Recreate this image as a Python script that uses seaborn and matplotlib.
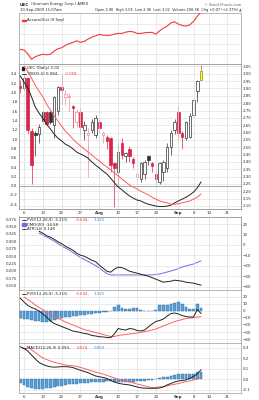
import numpy as np
import pandas as pd
import matplotlib
matplotlib.use("Agg")
import matplotlib.pyplot as plt
import seaborn as sns
from matplotlib.patches import Rectangle

# ---------------- data ----------------
opens  = [2.92,2.90,2.97,2.61,2.60,2.59,2.74,2.74,2.74,2.65,2.75,2.91,2.84,2.84,2.78,2.67,2.74,2.62,2.58,2.62,
          2.58,2.67,2.58,2.57,2.56,2.39,2.33,2.53,2.44,2.49,2.42,2.30,2.28,2.32,2.44,2.39,2.32,2.26,2.33,2.36,
          2.50,2.62,2.74,2.60,2.56,2.57,2.72,2.88,2.96]
highs  = [2.96,2.99,2.98,2.63,2.61,2.66,2.75,2.75,2.75,2.85,2.92,3.00,2.89,2.87,2.79,2.76,2.77,2.68,2.63,2.69,
          2.72,2.69,2.61,2.58,2.57,2.40,2.52,2.56,2.47,2.51,2.43,2.33,2.40,2.41,2.45,2.40,2.34,2.40,2.41,2.53,
          2.62,2.69,2.78,2.61,2.68,2.73,2.83,2.955,3.06]
lows   = [2.87,2.89,2.60,2.25,2.44,2.53,2.66,2.65,2.66,2.56,2.72,2.79,2.79,2.74,2.63,2.64,2.59,2.55,2.30,2.60,
          2.56,2.60,2.53,2.49,2.33,2.09,2.24,2.42,2.40,2.40,2.36,2.27,2.26,2.28,2.38,2.33,2.25,2.25,2.27,2.33,
          2.45,2.59,2.55,2.49,2.55,2.56,2.71,2.81,2.96]
closes = [2.90,2.97,2.62,2.38,2.585,2.64,2.68,2.66,2.675,2.84,2.91,2.89,2.86,2.85,2.77,2.74,2.64,2.65,2.60,2.67,
          2.70,2.63,2.60,2.54,2.38,2.36,2.47,2.45,2.46,2.44,2.39,2.32,2.39,2.40,2.41,2.37,2.28,2.39,2.40,2.50,
          2.60,2.67,2.60,2.57,2.67,2.71,2.82,2.95,3.02]

accum_dist = [10.7,10.0,6.3,0.7,3.3,4.7,5.7,5.3,5.7,9.0,11.3,12.3,14.7,16.3,17.7,19.3,17.7,18.7,21.0,23.0,
              24.3,25.7,25.0,24.7,25.0,26.0,26.7,26.7,28.0,28.7,28.3,26.7,26.7,27.3,27.7,27.7,26.0,29.3,32.0,34.0,
              37.3,38.3,36.0,34.7,34.0,35.3,38.7,44.0,48.3]

trix_line = [2.36,2.23,2.10,1.91,1.69,1.56,1.45,1.32,1.22,1.11,1.02,0.96,0.89,0.85,0.79,0.72,0.68,0.64,0.59,0.51,
             0.44,0.38,0.31,0.25,0.16,0.06,-0.03,-0.09,-0.16,-0.22,-0.27,-0.31,-0.33,-0.37,-0.40,-0.42,-0.44,-0.45,-0.45,-0.44,
             -0.42,-0.37,-0.33,-0.29,-0.25,-0.20,-0.14,-0.05,0.08]
trix_signal = [np.nan,2.57,2.46,2.31,2.16,2.03,1.91,1.75,1.63,1.50,1.39,1.28,1.17,1.09,1.00,0.92,0.85,0.79,0.72,0.66,
               0.59,0.53,0.46,0.40,0.34,0.27,0.21,0.14,0.08,0.01,-0.03,-0.07,-0.12,-0.16,-0.20,-0.25,-0.29,-0.33,-0.35,-0.37,
               -0.40,-0.40,-0.39,-0.37,-0.35,-0.33,-0.29,-0.25,-0.18]

atr14 = [np.nan]*5 + [0.3345,0.3277,0.3192,0.3141,0.3073,0.2988,0.2920,0.2835,0.2767,0.2699,0.2597,0.2529,0.2495,0.2427,0.2359,
         0.2308,0.2189,0.2087,0.1985,0.1951,0.2053,0.2121,0.2104,0.2053,0.1985,0.1951,0.1917,0.1883,0.1849,0.1815,0.1764,
         0.1713,0.1662,0.1611,0.1628,0.1645,0.1679,0.1662,0.1645,0.1611,0.1594,0.1577,0.1543,0.1509]
cmo20 = [np.nan]*5 + [11.5,9.6,7.7,5.8,3.8,1.4,-1.0,-2.9,-4.8,-7.2,-9.6,-12.0,-13.9,-15.9,-17.8,
         -19.7,-22.1,-25.0,-27.4,-28.8,-28.8,-28.8,-28.8,-28.8,-28.8,-28.8,-28.8,-28.8,-28.8,-28.8,-28.8,
         -28.3,-27.9,-26.9,-26.0,-25.0,-24.0,-22.6,-21.2,-20.2,-19.2,-18.3,-16.8,-15.4]

pvo_line = [17.9,12.3,7.5,4.5,2.4,-0.4,-4.6,-8.9,-14.5,-18.0,-20.1,-22.3,-24.4,-26.5,-28.6,-29.6,-30.7,-32.1,-32.8,-34.9,
            -35.6,-36.6,-37.0,-37.7,-38.0,-32.8,-25.1,-26.5,-27.2,-25.1,-25.8,-27.9,-28.6,-27.2,-23.0,-18.7,-15.2,-13.8,-11.7,-7.5,
            -4.0,-3.2,-4.6,-6.8,-8.2,-8.9,-8.9,1.7,-4.0]
pvo_signal = [np.nan,19.3,15.8,12.3,8.0,4.5,1.7,-1.8,-4.6,-7.5,-10.3,-13.1,-15.9,-18.0,-20.1,-22.3,-24.4,-26.5,-27.9,-29.3,
              -30.7,-32.1,-33.5,-34.9,-36.3,-36.3,-34.9,-34.2,-33.5,-32.8,-32.1,-31.4,-30.7,-29.3,-28.6,-27.2,-25.8,-23.7,-21.5,-19.4,
              -17.3,-15.2,-13.8,-12.4,-11.0,-10.3,-9.6,-8.9,-8.2]
pvo_hist = [-10.7,-11.2,-12.1,-13.1,-14.1,-15.0,-16.4,-15.5,-14.1,-13.1,-11.7,-10.3,-9.4,-8.5,-8.0,-7.0,-6.1,-5.6,-5.2,-4.2,
            -3.8,-3.3,-2.4,-1.4,-0.5,5.2,7.5,4.2,2.8,2.0,3.8,3.4,0.8,-0.5,-0.8,0.3,1.2,7.6,8.5,7.6,
            9.9,11.3,12.2,9.0,4.8,2.8,2.8,9.4,3.425]

macd_line = [0.312,0.295,0.271,0.233,0.195,0.162,0.143,0.129,0.121,0.117,0.119,0.122,0.122,0.119,0.113,0.100,0.088,0.076,0.065,0.048,
             0.033,0.026,0.019,0.010,-0.010,-0.024,-0.036,-0.043,-0.048,-0.052,-0.062,-0.071,-0.079,-0.083,-0.084,-0.084,-0.084,-0.081,-0.071,-0.052,
             -0.038,-0.024,-0.014,-0.010,-0.005,0.010,0.029,0.052,0.093]
macd_signal = [np.nan,np.nan,0.312,0.281,0.257,0.229,0.205,0.190,0.176,0.164,0.155,0.145,0.138,0.133,0.131,0.124,0.114,0.105,0.093,0.081,
               0.071,0.062,0.052,0.038,0.027,0.014,0.002,-0.008,-0.016,-0.024,-0.033,-0.043,-0.052,-0.062,-0.071,-0.078,-0.076,-0.071,-0.068,-0.062,
               -0.052,-0.046,-0.038,-0.030,-0.021,-0.014,-0.005,0.002,0.024]
macd_hist = [-0.037,-0.052,-0.068,-0.078,-0.090,-0.094,-0.090,-0.084,-0.078,-0.071,-0.062,-0.059,-0.052,-0.046,-0.043,-0.040,-0.037,-0.033,-0.030,-0.027,
             -0.024,-0.021,-0.021,-0.017,-0.017,-0.021,-0.027,-0.027,-0.027,-0.024,-0.021,-0.017,-0.014,-0.011,-0.008,-0.005,0.001,0.011,0.020,0.027,
             0.033,0.043,0.052,0.052,0.052,0.049,0.056,0.068,0.069]

tick_days = [1, 6, 11, 16, 21, 26, 31, 36, 42, 46, 50, 55]
tick_labels = ["6", "13", "20", "27", "Aug", "10", "17", "24", "Sep", "8", "14", "21"]

# --------------- style ---------------
sns.set_theme(style="white")
plt.rcParams['font.family'] = ['DejaVu Sans']
FS = 2.9
LFS = 2.8
GRID = "#e3e3e3"
SPINE = "#9a9a9a"
RED = "#d9254a"
PINK = "#f08c9c"
DARK = "#333333"
TXT = "#333333"

W, H = 259, 400
fig = plt.figure(figsize=(W/100, H/100), dpi=100)
fig.patch.set_facecolor("white")

def rect(x0, y0, x1, y1):
    return [x0/W, 1 - y1/H, (x1-x0)/W, (y1-y0)/H]

XL, XR = 19, 241
n = len(closes)
days = np.arange(n)
x_lo, x_hi = -0.32, 58.6

def base(ax):
    ax.set_xlim(x_lo, x_hi)
    ax.set_xticks(tick_days)
    ax.grid(False)
    for t in tick_days:
        ax.axvline(t, color=GRID, lw=0.5, zorder=0)
    for s in ax.spines.values():
        s.set_color(SPINE)
        s.set_linewidth(0.5)
    ax.tick_params(axis='both', which='both', length=0, labelsize=FS, pad=1.2, colors=TXT)

def bold_months(ax):
    for lab in ax.get_xticklabels():
        if lab.get_text() in ("Aug", "Sep"):
            lab.set_fontweight("bold")

# ---------- header ----------
fig.text(20/W, 1-4.5/H, "UEC", fontsize=3.0, fontweight="bold", va="center", ha="left", color="#222")
fig.text(31/W, 1-4.5/H, "(Uranium Energy Corp.) AMEX", fontsize=2.7, va="center", ha="left", color="#222")
fig.text(XR/W, 1-4.5/H, "© StockCharts.com", fontsize=2.7, va="center", ha="right", color="#666")
fig.text(20/W, 1-10/H, "10-Sep-2009 11:07am", fontsize=2.7, va="center", ha="left", color="#222")
fig.text((XR-3)/W, 1-10/H, "Open 2.96  High 3.06  Low 2.96  Last 3.02  Volume 200.3K  Chg +0.07 (+2.37%)",
         fontsize=2.55, va="center", ha="right", color="#222")
fig.text((XR+0.5)/W, 1-10.3/H, "▲", fontsize=2.6, va="center", ha="right", color="#2a9a2a")

# ---------- panel 1: Accum/Dist ----------
ax1 = fig.add_axes(rect(XL, 12.7, XR, 64))
base(ax1)
for yv in [6, 16, 26, 36]:
    ax1.axhline(yv, color=GRID, lw=0.5, zorder=0)
sns.lineplot(x=days, y=accum_dist, ax=ax1, color="#f03a3a", lw=0.8, zorder=3)
ax1.set_ylim(-4, 47.5)
ax1.set_yticks([])
ax1.set_xticklabels([])
ax1.set_xlabel(""); ax1.set_ylabel("")
ax1.add_patch(Rectangle((0.012, 0.83), 0.018, 0.035, transform=ax1.transAxes, color="#f03a3a", clip_on=False))
ax1.text(0.038, 0.85, "Accum/Dist (9 Sep)", transform=ax1.transAxes, fontsize=LFS, va="center", color="#222")

# ---------- panel 2: price ----------
ax2r = fig.add_axes(rect(XL, 64, XR, 209))
ax2 = ax2r.twinx()
base(ax2r)
base(ax2)
ax2r.yaxis.tick_right()
ax2.yaxis.tick_left()
ax2r.set_ylim(2.0786, 3.067)
pticks = np.round(np.arange(2.10, 3.051, 0.05), 2)
ax2r.set_yticks(pticks)
ax2r.set_yticklabels([f"{v:.2f}" for v in pticks])
for v in pticks:
    ax2r.axhline(v, color=GRID, lw=0.5, zorder=0)
ax2r.set_xticklabels(tick_labels)
bold_months(ax2r)

w = 0.66
for i in range(n):
    o, h, l, c = opens[i], highs[i], lows[i], closes[i]
    prev = closes[i-1] if i > 0 else o
    down = c < prev
    if i == n - 1:
        col, face = "#8a8a00", "#ffff33"
    elif down:
        col = RED if c < o else PINK
        face = col if c < o else "white"
    else:
        col = DARK
        face = DARK if c < o else "white"
    ax2r.vlines(i, l, h, color=col, lw=0.5, zorder=2)
    lo_b, hi_b = min(o, c), max(o, c)
    ax2r.add_patch(Rectangle((i - w/2, lo_b), w, max(hi_b - lo_b, 0.004),
                             facecolor=face, edgecolor=col, lw=0.5, zorder=3))

ax2.set_ylim(-0.503, 2.615)
lt = np.round(np.arange(-0.4, 2.41, 0.2), 1)
ax2.set_yticks(lt)
ax2.set_yticklabels([f"{v:.1f}" for v in lt])
ax2.axhline(0, color="#999999", lw=0.6, zorder=1)
ax2.patch.set_visible(False)
sns.lineplot(x=days, y=trix_line, ax=ax2, color="#222222", lw=0.7, zorder=4)
sns.lineplot(x=days, y=trix_signal, ax=ax2, color="#ff5a5a", lw=0.7, zorder=4)
ax2.set_xlabel(""); ax2.set_ylabel(""); ax2r.set_ylabel("")
ax2.add_patch(Rectangle((0.012, 0.962), 0.012, 0.02, transform=ax2.transAxes, color="#222", clip_on=False))
ax2.text(0.035, 0.972, "UEC (Daily) 3.02", transform=ax2.transAxes, fontsize=LFS, va="center", color="#222")
ax2.plot([0.012, 0.03], [0.93, 0.93], transform=ax2.transAxes, color="#222", lw=0.6)
ax2.text(0.035, 0.93, "TRIX(5,5) 0.084,", transform=ax2.transAxes, fontsize=LFS, va="center", color="#222")
ax2.text(0.205, 0.93, "-0.058", transform=ax2.transAxes, fontsize=LFS, va="center", color="#ff3030")

# ---------- panel 3 ----------
ax3r = fig.add_axes(rect(XL, 216.5, XR, 290))
ax3 = ax3r.twinx()
base(ax3r); base(ax3)
ax3r.yaxis.tick_right()
ax3.yaxis.tick_left()
ax3r.set_ylim(-43.3, 27.4)
ax3r.set_yticks([-40, -30, -20, -10, 0, 10, 20])
for v in [-40, -30, -20, -10, 0, 10, 20]:
    ax3r.axhline(v, color=GRID, lw=0.5, zorder=0)
ax3.set_ylim(0.1345, 0.3845)
at = np.round(np.arange(0.150, 0.376, 0.025), 3)
ax3.set_yticks(at)
ax3.set_yticklabels([f"{v:.3f}" for v in at])
ax3.patch.set_visible(False)
sns.lineplot(x=days, y=cmo20, ax=ax3r, color="#6f6fd8", lw=0.7, zorder=3)
sns.lineplot(x=days, y=atr14, ax=ax3, color="#222222", lw=0.7, zorder=4)
for a in (ax3, ax3r):
    a.set_xticklabels([]); a.set_xlabel(""); a.set_ylabel("")
ax3.plot([0.012, 0.03], [0.95, 0.95], transform=ax3.transAxes, color="#222", lw=0.6)
ax3.text(0.035, 0.95, "PVO(12,26,9) -5.219,", transform=ax3.transAxes, fontsize=LFS, va="center", color="#222")
ax3.text(0.255, 0.95, "-0.644,", transform=ax3.transAxes, fontsize=LFS, va="center", color="#ff3030")
ax3.text(0.335, 0.95, "3.425", transform=ax3.transAxes, fontsize=LFS, va="center", color="#3a8fd0")
ax3.add_patch(Rectangle((0.012, 0.875), 0.018, 0.03, transform=ax3.transAxes, color="#6f6fd8", clip_on=False))
ax3.text(0.035, 0.89, "CMO(20) -14.58", transform=ax3.transAxes, fontsize=LFS, va="center", color="#222")
ax3.plot([0.012, 0.03], [0.83, 0.83], transform=ax3.transAxes, color="#222", lw=0.6)
ax3.text(0.035, 0.83, "ATR(14) 0.148", transform=ax3.transAxes, fontsize=LFS, va="center", color="#222")

# ---------- panel 4: PVO ----------
ax4 = fig.add_axes(rect(XL, 290, XR, 342.5))
base(ax4)
ax4.yaxis.tick_right()
ax4.set_ylim(-44.8, 29.2)
pv = [-40, -30, -20, -10, 0, 10, 20]
ax4.set_yticks(pv)
for v in pv:
    ax4.axhline(v, color=GRID, lw=0.5, zorder=0)
ax4.bar(days, pvo_hist, width=0.75, color="#5a9fd6", edgecolor="#2c6ea8", lw=0.3, zorder=2)
sns.lineplot(x=days, y=pvo_line, ax=ax4, color="#222222", lw=0.7, zorder=4)
sns.lineplot(x=days, y=pvo_signal, ax=ax4, color="#ff6060", lw=0.7, zorder=3)
ax4.set_xticklabels([]); ax4.set_xlabel(""); ax4.set_ylabel("")
ax4.plot([0.012, 0.03], [0.92, 0.92], transform=ax4.transAxes, color="#222", lw=0.6)
ax4.text(0.035, 0.92, "PVO(12,26,9) -5.219,", transform=ax4.transAxes, fontsize=LFS, va="center", color="#222")
ax4.text(0.255, 0.92, "-0.644,", transform=ax4.transAxes, fontsize=LFS, va="center", color="#ff3030")
ax4.text(0.335, 0.92, "3.425", transform=ax4.transAxes, fontsize=LFS, va="center", color="#3a8fd0")

# ---------- panel 5: MACD ----------
ax5 = fig.add_axes(rect(XL, 342.5, XR, 393))
base(ax5)
ax5.yaxis.tick_right()
ax5.set_ylim(-0.129, 0.352)
mv = [-0.1, 0.0, 0.1, 0.2, 0.3]
ax5.set_yticks(mv)
ax5.set_yticklabels([f"{v:.1f}" for v in mv])
for v in mv:
    ax5.axhline(v, color=GRID, lw=0.5, zorder=0)
ax5.bar(days, macd_hist, width=0.75, color="#5a9fd6", edgecolor="#2c6ea8", lw=0.3, zorder=2)
sns.lineplot(x=days, y=macd_line, ax=ax5, color="#222222", lw=0.7, zorder=4)
sns.lineplot(x=days, y=macd_signal, ax=ax5, color="#ff6060", lw=0.7, zorder=3)
ax5.set_xlabel(""); ax5.set_ylabel("")
ax5.set_xticklabels(tick_labels)
bold_months(ax5)
ax5.plot([0.012, 0.03], [0.9, 0.9], transform=ax5.transAxes, color="#222", lw=0.6)
ax5.text(0.035, 0.9, "MACD(12,26,9) 0.093,", transform=ax5.transAxes, fontsize=LFS, va="center", color="#222")
ax5.text(0.26, 0.9, "0.024,", transform=ax5.transAxes, fontsize=LFS, va="center", color="#ff3030")
ax5.text(0.335, 0.9, "0.069", transform=ax5.transAxes, fontsize=LFS, va="center", color="#3a8fd0")

for a in fig.axes:
    if a.get_legend():
        a.get_legend().remove()

fig.savefig("out.png", dpi=100, facecolor="white")
